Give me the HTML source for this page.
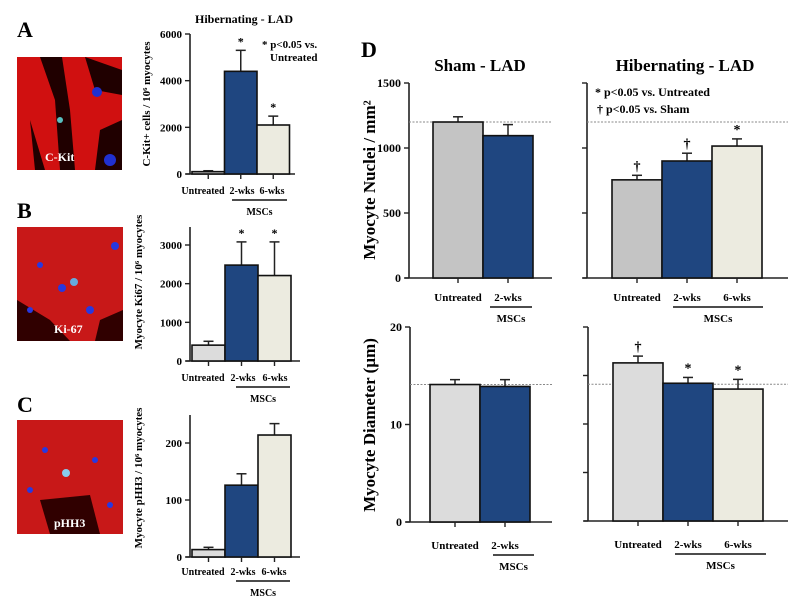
<!DOCTYPE html>
<html><head><meta charset="utf-8"><style>
html,body{margin:0;padding:0;background:#fff;}
svg{display:block;font-family:"Liberation Serif",serif;font-weight:bold;}
</style></head><body>
<div style="position:relative;width:800px;height:606px;">
<svg id="fig" width="800" height="606" viewBox="0 0 800 606" style="position:absolute;left:0;top:0;">
<g font-size="22">
<text x="17" y="37">A</text>
<text x="17" y="218">B</text>
<text x="17" y="412">C</text>
<text x="361" y="57">D</text>
</g>
<g>
<rect x="17" y="57" width="105" height="113" fill="#d01010"/>
<path d="M40 57 L55 100 L60 170 L75 170 L70 110 L62 57Z M85 57 L95 90 L122 95 L122 70Z M30 120 L45 170 L35 170Z M100 130 L122 120 L122 170 L95 170Z" fill="#200000"/>
<circle cx="97" cy="92" r="5" fill="#2030d0"/><circle cx="110" cy="160" r="6" fill="#2030d0"/><circle cx="60" cy="120" r="3" fill="#58c0c0"/>
<text x="45" y="161" fill="#fff" font-size="12">C-Kit</text>
</g>
<g>
<rect x="17" y="227" width="106" height="114" fill="#c81818"/>
<path d="M17 300 L50 320 L70 341 L17 341Z M100 320 L123 310 L123 341 L95 341Z" fill="#300000"/>
<circle cx="115" cy="246" r="4" fill="#2838e0"/><circle cx="74" cy="282" r="4" fill="#6ad"/><circle cx="62" cy="288" r="4" fill="#2838e0"/><circle cx="90" cy="310" r="4" fill="#2838e0"/><circle cx="40" cy="265" r="3" fill="#2838e0"/><circle cx="30" cy="310" r="3" fill="#2838e0"/>
<text x="54" y="333" fill="#fff" font-size="12">Ki-67</text>
</g>
<g>
<rect x="17" y="420" width="106" height="114" fill="#c81818"/>
<path d="M40 500 L90 495 L100 534 L50 534Z" fill="#300000"/>
<circle cx="66" cy="473" r="4" fill="#8ce"/><circle cx="45" cy="450" r="3" fill="#2838e0"/><circle cx="95" cy="460" r="3" fill="#2838e0"/><circle cx="30" cy="490" r="3" fill="#2838e0"/><circle cx="110" cy="505" r="3" fill="#2838e0"/>
<text x="54" y="527" fill="#fff" font-size="12">pHH3</text>
</g>
<g id="charts"></g>
<text x="244" y="23" text-anchor="middle" font-size="12">Hibernating - LAD</text>
<text x="262" y="48" font-size="11">* p&lt;0.05 vs.</text>
<text x="270" y="61" font-size="11">Untreated</text>
<text x="480" y="71" text-anchor="middle" font-size="17">Sham - LAD</text>
<text x="685" y="71" text-anchor="middle" font-size="17">Hibernating - LAD</text>
<text x="595" y="96" font-size="12">* p&lt;0.05 vs. Untreated</text>
<text x="597" y="113" font-size="12">† p&lt;0.05 vs. Sham</text>
</svg>
</div>
<script>
// Panel A
const catsA = ["Untreated","2-wks","6-wks"];
const valsA = [100, 4400, 2100];
const errA = [140, 5300, 2480];
const ticksA = [0, 2000, 4000, 6000];
// Panel B
const valsB = [410, 2480, 2210];
const errB = [510, 3080, 3080];
const ticksB = [0, 1000, 2000, 3000];
// Panel C
const valsC = [13, 126, 214];
const errC = [17, 146, 234];
const ticksC = [0, 100, 200];
// Panel D nuclei
const catsSham = ["Untreated","2-wks"];
const valsShamN = [1200, 1095];
const errShamN = [1240, 1180];
const valsHibN = [755, 900, 1015];
const errHibN = [790, 960, 1070];
const ticksN = [0, 500, 1000, 1500];
const refN = 1200;
// Panel D diameter
const valsShamD = [14.1, 13.9];
const errShamD = [14.6, 14.6];
const valsHibD = [16.3, 14.2, 13.6];
const errHibD = [17.0, 14.8, 14.6];
const ticksD = [0, 10, 20];
const refD = 14.1;

const NS = "http://www.w3.org/2000/svg";
const root = document.getElementById('charts');
function mk(tag, attrs, parent, txt){
  const e = document.createElementNS(NS, tag);
  for (const k in attrs) e.setAttribute(k, attrs[k]);
  if (txt !== undefined) e.textContent = txt;
  (parent || root).appendChild(e);
  return e;
}
const COL = {gray:"#c4c4c4", lgray:"#dcdcdc", blue:"#1f4680", cream:"#ecebe0"};

function panel(o){
  const g = mk('g', {});
  
  
  const y = v => o.y0 - v / o.max * (o.y0 - o.yTop);
  const ax = mk('line', {x1:o.ax, y1:o.axTop, x2:o.ax, y2:o.y0, stroke:"#222", 'stroke-width':1.6}, g);
  
  
  const xa = mk('line', {x1:o.ax-4, y1:o.y0, x2:o.xEnd, y2:o.y0, stroke:"#222", 'stroke-width':1.6}, g);
  
  
  o.ticks.forEach(t => {
    const ty = y(t);
    const tl = mk('line', {x1:o.ax-5, y1:ty, x2:o.ax, y2:ty, stroke:"#222", 'stroke-width':1.4}, g);
    
    
    if (o.showTickLabels) {
      const tx = mk('text', {x:o.ax-8, y:ty+4, 'text-anchor':'end', 'font-size':o.fs}, g, String(t));
      
      
    }
  });
  if (o.ref !== undefined) {
    const rl = mk('line', {x1:o.refX1 || o.ax, y1:y(o.ref), x2:o.xEnd, y2:y(o.ref), stroke:"#888", 'stroke-width':1, 'stroke-dasharray':'2,1.5'}, g);
    
    
  }
  o.vals.forEach((v, i) => {
    const x = o.bx + i * o.bw;
    const cx = x + o.bw/2;
    const e = o.err[i];
    const el = mk('line', {x1:cx, y1:y(v), x2:cx, y2:y(e), stroke:"#222", 'stroke-width':1.5}, g);
    
    
    const ec = mk('line', {x1:cx-5, y1:y(e), x2:cx+5, y2:y(e), stroke:"#222", 'stroke-width':1.5}, g);
    
    
    const r = mk('rect', {x:x, y:y(v), width:o.bw, height:o.y0 - y(v), fill:o.colors[i], stroke:"#111", 'stroke-width':1.6}, g);
    
    
    const tk = mk('line', {x1:cx, y1:o.y0, x2:cx, y2:o.y0+5, stroke:"#222", 'stroke-width':1.4}, g);
    
    
    if (o.marks && o.marks[i]) {
      const m = mk('text', {x:cx, y:y(e)-5, 'text-anchor':'middle', 'font-size':o.markFs}, g, o.marks[i]);
      
      
    }
    const lx = o.labelX ? o.labelX[i] : cx;
    const lb = mk('text', {x:lx, y:o.y0+o.labDy, 'text-anchor':'middle', 'font-size':o.lfs}, g, o.cats[i]);
    
    
  });
  const x1 = o.mscX1, x2 = o.mscX2;
  const ml = mk('line', {x1:x1, y1:o.y0+o.labDy+6, x2:x2, y2:o.y0+o.labDy+6, stroke:"#111", 'stroke-width':1.5}, g);
  
  
  const mt = mk('text', {x:(x1+x2)/2, y:o.y0+o.labDy+21, 'text-anchor':'middle', 'font-size':o.lfs}, g, 'MSCs');
  
  
  if (o.ytitle) {
    const yt = mk('text', {x:0, y:0, transform:`translate(${o.ytX},${o.ytY}) rotate(-90)`, 'text-anchor':'middle', 'font-size':o.ytFs}, g, o.ytitle);
    
    
  }
  return g;
}
const c3 = [COL.lgray, COL.blue, COL.cream];
const sup6 = "10\u2076";
const labsABC = [203, 242, 272];
panel({name:'chart-a', cats:catsA, vals:valsA, err:errA, ticks:ticksA, max:6000, y0:174, yTop:34, axTop:34, ax:190, xEnd:295, bx:192, bw:32.5, colors:c3, showTickLabels:true, fs:11, lfs:10, labDy:20, labelX:labsABC, mscX1:232, mscX2:287, marks:['', '*', '*'], markFs:12, ytitle:'C-Kit+ cells / '+sup6+' myocytes', ytX:150, ytY:104, ytFs:11});
panel({name:'chart-b', cats:catsA, vals:valsB, err:errB, ticks:ticksB, max:3000, y0:361, yTop:245, axTop:227, ax:190, xEnd:300, bx:192, bw:33, colors:c3, showTickLabels:true, fs:11, lfs:10, labDy:20, labelX:[203,243,275], mscX1:236, mscX2:290, marks:['', '*', '*'], markFs:12, ytitle:'Myocyte Ki67 / '+sup6+' myocytes', ytX:142, ytY:282, ytFs:11});
panel({name:'chart-c', cats:catsA, vals:valsC, err:errC, ticks:ticksC, max:200, y0:557, yTop:443, axTop:415, ax:190, xEnd:300, bx:192, bw:33, colors:c3, showTickLabels:true, fs:11, lfs:10, labDy:18, labelX:[203,243,274], mscX1:236, mscX2:290, ytitle:'Myocyte pHH3 / '+sup6+' myocytes', ytX:142, ytY:478, ytFs:11});
panel({name:'chart-d-sham-nuclei', cats:catsSham, vals:valsShamN, err:errShamN, ticks:ticksN, max:1500, y0:278, yTop:83, axTop:83, ax:409, xEnd:552, bx:433, bw:50, colors:[COL.gray, COL.blue], showTickLabels:true, fs:12, lfs:11, labDy:23, mscX1:490, mscX2:532, ref:refN, ytitle:'Myocyte Nuclei / mm\u00b2', ytX:375, ytY:180, ytFs:17});
panel({name:'chart-d-hib-nuclei', cats:catsA, vals:valsHibN, err:errHibN, ticks:ticksN, max:1500, y0:278, yTop:83, axTop:83, ax:587, xEnd:788, bx:612, bw:50, colors:[COL.gray, COL.blue, COL.cream], showTickLabels:false, lfs:11, labDy:23, mscX1:673, mscX2:763, marks:['\u2020','\u2020','*'], markFs:14, ref:refN});
panel({name:'chart-d-sham-diameter', cats:catsSham, vals:valsShamD, err:errShamD, ticks:ticksD, max:20, y0:522, yTop:327, axTop:327, ax:410, xEnd:552, bx:430, bw:50, colors:[COL.lgray, COL.blue], showTickLabels:true, fs:12, lfs:11, labDy:27, mscX1:493, mscX2:534, ref:refD, ytitle:'Myocyte Diameter (\u00b5m)', ytX:375, ytY:425, ytFs:17});
panel({name:'chart-d-hib-diameter', cats:catsA, vals:valsHibD, err:errHibD, ticks:[0,5,10,15,20], max:20, y0:521, yTop:327, axTop:327, ax:588, xEnd:788, bx:613, bw:50, colors:[COL.lgray, COL.blue, COL.cream], showTickLabels:false, lfs:11, labDy:27, mscX1:675, mscX2:766, marks:['\u2020','*','*'], markFs:14, ref:refD});
</script>
</body></html>
